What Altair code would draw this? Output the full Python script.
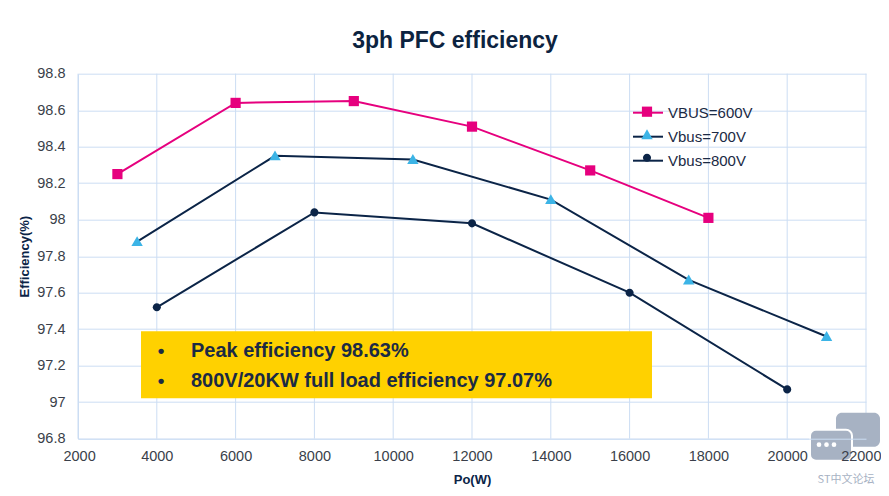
import altair as alt
import pandas as pd

# ---- data ----
series_names = ["VBUS=600V", "Vbus=700V", "Vbus=800V"]
p600 = [3000, 6000, 9000, 12000, 15000, 18000]
e600 = [98.25, 98.64, 98.65, 98.51, 98.27, 98.01]
p700 = [3500, 7000, 10500, 14000, 17500, 21000]
e700 = [97.88, 98.35, 98.33, 98.11, 97.67, 97.36]
p800 = [4000, 8000, 12000, 16000, 20000]
e800 = [97.52, 98.04, 97.98, 97.60, 97.07]

x_ticks = [2000, 4000, 6000, 8000, 10000, 12000, 14000, 16000, 18000, 20000, 22000]
y_ticks = [96.8, 97.0, 97.2, 97.4, 97.6, 97.8, 98.0, 98.2, 98.4, 98.6, 98.8]

bullet_lines = ["Peak efficiency 98.63%", "800V/20KW full load efficiency 97.07%"]
title_text = "3ph PFC efficiency"
watermark = "ST中文论坛"

# ---- styles ----
PINK = "#E6007E"
NAVY = "#0B2447"
LBLUE = "#3CB4E6"
GRID = "#CCDDF3"
TEXT = "#1B2A44"
line_colors = [PINK, NAVY, NAVY]
marker_colors = [PINK, LBLUE, NAVY]
marker_paths = [
    "M-0.34,-0.34H0.34V0.34H-0.34Z",
    "M0,-0.36L0.38,0.3H-0.38Z",
    "M0.27,0A0.27,0.27 0 1,1 -0.27,0A0.27,0.27 0 1,1 0.27,0Z",
]

rows = []
for name, xs, ys in zip(series_names, [p600, p700, p800], [e600, e700, e800]):
    for xv, yv in zip(xs, ys):
        rows.append({"Po": xv, "Eff": yv, "series": name, "marker": name})
df = pd.DataFrame(rows)
grid_df = pd.DataFrame({"Po": x_ticks})

FONT = "Liberation Sans"

x_scale = alt.Scale(domain=[2000, 22000], nice=False)
x_enc = alt.X("Po:Q", title="Po(W)", scale=x_scale,
              axis=alt.Axis(values=x_ticks, format="d", labelFlush=True,
                            labelFlushOffset=15, labelOverlap=False,
                            tickCount=20, grid=False, zindex=1))
y_enc = alt.Y("Eff:Q", title="Efficiency(%)",
              scale=alt.Scale(domain=[96.8, 98.8], nice=False, zero=False),
              axis=alt.Axis(values=y_ticks, format=".1~f", labelFlush=False,
                            labelOverlap=False, tickCount=20))

# vertical grid lines drawn beneath the marks (x axis itself sits on top)
vgrid = alt.Chart(grid_df).mark_rule(color=GRID, strokeWidth=1).encode(
    x=alt.X("Po:Q", scale=x_scale))

leg_common = dict(title=None, orient="none", legendX=554, legendY=23,
                  symbolSize=900, labelFontSize=15, labelFont=FONT,
                  labelColor=TEXT, labelOffset=4, rowPadding=-3, padding=0)

lines = alt.Chart(df).mark_line(strokeWidth=2).encode(
    x=x_enc, y=y_enc,
    stroke=alt.Stroke("series:N",
                      scale=alt.Scale(domain=series_names, range=line_colors),
                      legend=alt.Legend(symbolType="stroke", symbolStrokeWidth=2,
                                        **leg_common)),
)

leg2 = alt.Legend(symbolStrokeWidth=0, labelExpr="''", **leg_common)
points = alt.Chart(df).mark_point(filled=True, size=900, opacity=1, strokeWidth=0).encode(
    x="Po:Q", y="Eff:Q",
    shape=alt.Shape("marker:N", scale=alt.Scale(range=marker_paths), legend=leg2),
    fill=alt.Fill("marker:N", scale=alt.Scale(range=marker_colors), legend=leg2),
)

one = pd.DataFrame({"t": [0]})
box = alt.Chart(one).mark_rect(color="#FFD100").encode(
    x=alt.value(63), x2=alt.value(574), y=alt.value(257.5), y2=alt.value(324.5))
box_text = alt.Chart(one).mark_text(
    align="left", baseline="middle", font=FONT, fontSize=20, fontWeight="bold",
    color=TEXT, lineHeight=30).encode(
    x=alt.value(113), y=alt.value(277.5), text=alt.value(bullet_lines))
bullets = alt.Chart(one).mark_text(
    align="center", baseline="middle", font=FONT, fontSize=19, fontWeight="bold",
    color=TEXT, lineHeight=30).encode(
    x=alt.value(83), y=alt.value(277.5), text=alt.value(["•", "•"]))

# watermark (bubble icon + text)
WM = "#A7B2C3"
back_bubble = alt.Chart(one).mark_rect(color=WM, cornerRadius=6).encode(
    x=alt.value(758), x2=alt.value(802), y=alt.value(339), y2=alt.value(373))
front_bubble = alt.Chart(one).mark_rect(fill=WM, stroke="white", strokeWidth=2,
                                        cornerRadius=6).encode(
    x=alt.value(732), x2=alt.value(774), y=alt.value(356), y2=alt.value(387))
dots = [alt.Chart(one).mark_circle(color="white", size=22, opacity=1).encode(
    x=alt.value(v), y=alt.value(371)) for v in (741, 748.5, 756)]
wm_text = alt.Chart(one).mark_text(
    font="Noto Sans CJK SC", fontSize=11, color=WM, align="center",
    baseline="middle").encode(x=alt.value(768), y=alt.value(406),
                              text=alt.value(watermark))

chart = alt.layer(vgrid, box, lines, points, bullets, box_text,
                  back_bubble, front_bubble, *dots, wm_text).properties(
    width=788, height=365,
    title=alt.TitleParams(title_text, font=FONT, fontSize=23, fontWeight="bold",
                          color="#0C2340", anchor="middle", offset=13, dx=-17),
    padding={"left": 70, "top": 65.7, "right": 15, "bottom": 49},
    autosize=alt.AutoSizeParams(type="none"),
).configure_view(stroke=None).configure_axis(
    gridColor=GRID, domainColor=GRID, ticks=False, labelFont=FONT,
    labelFontSize=14.5, labelColor="#3A3F4A", titleFont=FONT, titleFontSize=13,
    titleFontWeight="bold", titleColor=NAVY,
).configure_axisY(labelPadding=13, titlePadding=5).configure_axisX(
    labelPadding=11, titlePadding=10)

chart.save("out.html", embed_options={"renderer": "svg", "actions": False})
